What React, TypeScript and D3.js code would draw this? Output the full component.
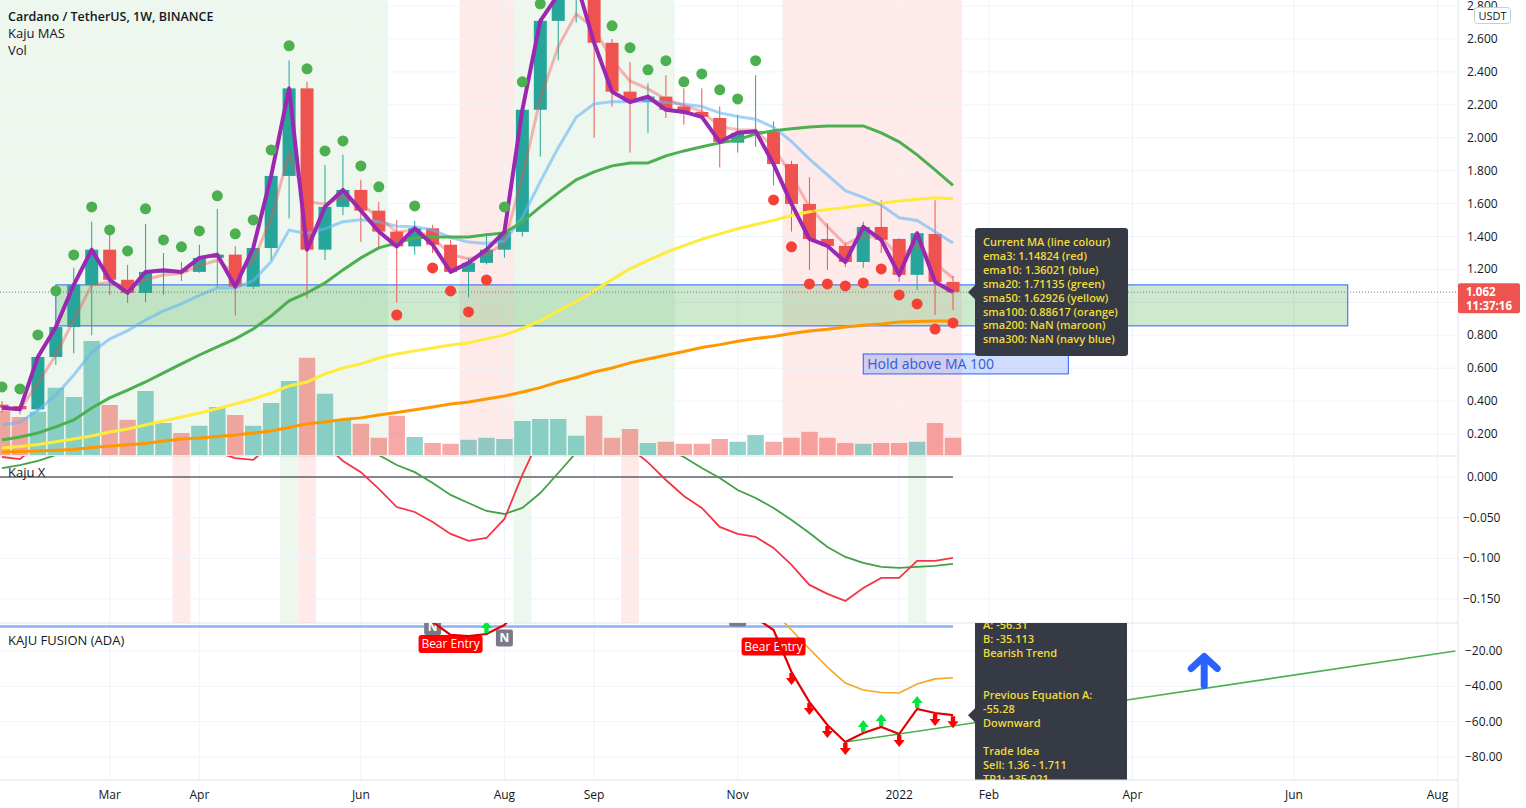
import React from "react";
import * as d3 from "d3";

// weekly bars, first and last candle
const firstWeek = new Date(Date.UTC(2021, 0, 18));
const afterLastWeek = new Date(Date.UTC(2022, 0, 25));

const open = [0.378, 0.37, 0.35, 0.668, 0.85, 1.106, 1.32, 1.137, 1.057, 1.18, 1.195, 1.185, 1.27, 1.29, 1.095, 1.33, 1.768, 2.3, 1.32, 1.58, 1.683, 1.557, 1.43, 1.34, 1.45, 1.35, 1.185, 1.24, 1.32, 1.428, 2.17, 2.71, 2.87, 2.95, 2.577, 2.28, 2.217, 2.25, 2.19, 2.157, 2.12, 1.97, 2.03, 2.035, 1.84, 1.598, 1.385, 1.343, 1.245, 1.458, 1.385, 1.167, 1.415, 1.124];
const high = [0.4, 0.38, 0.68, 0.88, 1.21, 1.49, 1.42, 1.227, 1.477, 1.3, 1.245, 1.35, 1.567, 1.34, 1.33, 1.8, 2.47, 2.34, 1.835, 1.896, 1.744, 1.61, 1.5, 1.495, 1.47, 1.38, 1.27, 1.42, 1.43, 2.17, 2.71, 2.97, 3.1, 2.99, 2.6, 2.46, 2.33, 2.38, 2.3, 2.3, 2.19, 2.14, 2.38, 2.1, 1.86, 1.76, 1.48, 1.36, 1.49, 1.62, 1.39, 1.43, 1.62, 1.16];
const low = [0.33, 0.32, 0.34, 0.62, 0.69, 0.8, 1.045, 0.996, 1.0, 1.045, 1.13, 1.18, 1.087, 0.92, 1.08, 1.257, 1.51, 1.025, 1.257, 1.53, 1.367, 1.33, 1.0, 1.29, 1.3, 1.18, 1.03, 1.23, 1.27, 1.4, 1.884, 2.47, 2.7, 2.0, 2.19, 1.91, 2.03, 2.12, 2.08, 2.12, 1.82, 1.91, 1.945, 1.71, 1.43, 1.197, 1.197, 1.215, 1.21, 1.3, 1.124, 1.075, 0.923, 0.954];
const close = [0.36, 0.35, 0.668, 0.85, 1.106, 1.32, 1.137, 1.057, 1.185, 1.195, 1.185, 1.27, 1.29, 1.095, 1.33, 1.768, 2.3, 1.32, 1.58, 1.683, 1.557, 1.43, 1.34, 1.45, 1.35, 1.185, 1.24, 1.32, 1.428, 2.17, 2.71, 2.87, 2.95, 2.577, 2.28, 2.217, 2.25, 2.17, 2.157, 2.127, 1.975, 2.03, 2.04, 1.84, 1.598, 1.385, 1.343, 1.245, 1.458, 1.38, 1.167, 1.42, 1.124, 1.062];
// volume, billions
const volume = [1.1, 0.95, 1.08, 1.68, 1.45, 2.85, 1.25, 0.88, 1.6, 0.8, 0.55, 0.73, 1.2, 1.0, 0.73, 1.3, 1.85, 2.43, 1.53, 0.9, 0.78, 0.43, 0.98, 0.45, 0.3, 0.28, 0.38, 0.43, 0.4, 0.85, 0.9, 0.9, 0.48, 0.98, 0.43, 0.65, 0.3, 0.33, 0.28, 0.28, 0.4, 0.33, 0.5, 0.33, 0.43, 0.58, 0.43, 0.3, 0.28, 0.3, 0.3, 0.33, 0.8, 0.43];

// Kaju MAS moving averages
const ema3 = [0.35, 0.35, 0.509, 0.68, 0.893, 1.106, 1.122, 1.09, 1.137, 1.166, 1.175, 1.223, 1.256, 1.176, 1.253, 1.51, 1.905, 1.613, 1.596, 1.64, 1.598, 1.514, 1.427, 1.439, 1.394, 1.29, 1.265, 1.292, 1.36, 1.765, 2.238, 2.554, 2.752, 2.665, 2.472, 2.345, 2.297, 2.234, 2.195, 2.161, 2.068, 2.049, 2.045, 1.942, 1.77, 1.578, 1.46, 1.353, 1.405, 1.393, 1.28, 1.35, 1.237, 1.148];
const ema10 = [0.255, 0.272, 0.344, 0.436, 0.558, 0.697, 0.777, 0.828, 0.893, 0.948, 0.991, 1.042, 1.087, 1.088, 1.132, 1.248, 1.439, 1.417, 1.447, 1.49, 1.502, 1.489, 1.462, 1.46, 1.44, 1.394, 1.366, 1.358, 1.371, 1.516, 1.733, 1.94, 2.124, 2.206, 2.219, 2.219, 2.225, 2.215, 2.204, 2.19, 2.151, 2.129, 2.113, 2.063, 1.978, 1.87, 1.774, 1.678, 1.638, 1.591, 1.514, 1.497, 1.429, 1.36];
const sma20 = [0.164, 0.182, 0.206, 0.243, 0.285, 0.358, 0.419, 0.467, 0.516, 0.571, 0.626, 0.68, 0.729, 0.778, 0.838, 0.917, 1.009, 1.057, 1.118, 1.197, 1.27, 1.331, 1.361, 1.391, 1.397, 1.397, 1.397, 1.41, 1.422, 1.489, 1.58, 1.665, 1.744, 1.793, 1.829, 1.847, 1.847, 1.89, 1.92, 1.945, 1.969, 1.987, 2.024, 2.042, 2.054, 2.066, 2.072, 2.072, 2.072, 2.03, 1.975, 1.896, 1.805, 1.711];
const sma50 = [0.115, 0.124, 0.136, 0.153, 0.17, 0.188, 0.212, 0.23, 0.255, 0.279, 0.303, 0.328, 0.354, 0.382, 0.413, 0.449, 0.492, 0.516, 0.565, 0.601, 0.626, 0.662, 0.686, 0.705, 0.723, 0.741, 0.753, 0.778, 0.802, 0.841, 0.888, 0.948, 1.005, 1.072, 1.138, 1.204, 1.255, 1.303, 1.344, 1.383, 1.416, 1.447, 1.473, 1.498, 1.528, 1.55, 1.564, 1.576, 1.59, 1.602, 1.616, 1.626, 1.635, 1.629];
const sma100 = [0.091, 0.094, 0.097, 0.101, 0.106, 0.118, 0.127, 0.134, 0.142, 0.157, 0.17, 0.176, 0.185, 0.194, 0.206, 0.218, 0.24, 0.263, 0.273, 0.288, 0.298, 0.316, 0.331, 0.347, 0.364, 0.382, 0.395, 0.413, 0.431, 0.455, 0.482, 0.516, 0.543, 0.577, 0.601, 0.632, 0.656, 0.678, 0.701, 0.725, 0.743, 0.764, 0.78, 0.792, 0.81, 0.826, 0.836, 0.85, 0.861, 0.869, 0.88, 0.884, 0.887, 0.886];

// signal dots (price), null = none
const bullDots = [0.486, 0.474, 0.802, 1.069, 1.288, 1.58, 1.44, 1.312, 1.568, 1.379, 1.337, 1.434, 1.647, 1.416, 1.501, 1.926, 2.559, 2.419, 1.92, 1.981, 1.829, 1.702, null, 1.586, null, null, null, null, 1.58, 2.34, 2.814, null, null, null, 2.68, 2.547, 2.413, 2.468, 2.34, 2.388, 2.291, 2.236, 2.468, null, null, null, null, null, null, null, null, null, null, null];
const bearDots = [null, null, null, null, null, null, null, null, null, null, null, null, null, null, null, null, null, null, null, null, null, null, 0.923, null, 1.209, 1.069, 0.942, 1.136, null, null, null, null, null, null, null, null, null, null, null, null, null, null, null, 1.622, 1.337, 1.112, 1.112, 1.1, 1.118, 1.203, 1.045, 0.99, 0.838, 0.875];

// background state bands (bar index ranges)
const greenBands = [[0, 21], [29, 37]];
const pinkBands = [[26, 28], [44, 53]];

// Kaju X
const kajuRed = [0.0246, 0.022, 0.04, 0.06, 0.08, 0.09, 0.085, 0.07, 0.06, 0.05, 0.04, 0.035, 0.03, 0.0233, 0.021, 0.04, 0.07, 0.08, 0.04, 0.0197, 0.006, -0.0147, -0.0369, -0.043, -0.0553, -0.07, -0.0786, -0.075, -0.0516, 0.0025, 0.05, 0.09, 0.12, 0.1, 0.06, 0.036, 0.018, -0.0037, -0.0233, -0.038, -0.0614, -0.07, -0.0737, -0.0872, -0.108, -0.1327, -0.1437, -0.1523, -0.1364, -0.124, -0.124, -0.1032, -0.1032, -0.0995];
const kajuGreen = [0.011, 0.0147, 0.0197, 0.027, 0.04, 0.06, 0.07, 0.08, 0.09, 0.1, 0.1, 0.1, 0.1, 0.1, 0.1, 0.1, 0.11, 0.11, 0.1, 0.09, 0.05, 0.027, 0.0147, 0.006, -0.0074, -0.022, -0.032, -0.0418, -0.0455, -0.038, -0.0197, 0.0049, 0.03, 0.045, 0.05, 0.05, 0.045, 0.035, 0.0246, 0.011, -0.0012, -0.016, -0.0258, -0.038, -0.0528, -0.0688, -0.086, -0.0983, -0.1057, -0.1106, -0.1118, -0.1106, -0.1093, -0.1069];
const kajuPinkBars = [10, 17, 35];
const kajuGreenBars = [16, 29, 51];

// Kaju Fusion
const fusionRed = [null, null, null, null, null, null, null, null, null, null, null, null, null, null, null, null, null, null, null, null, null, null, null, 5, -3.6, -10.9, -11.5, -10.4, -5.3, 6, 12, 16, 18, 18, 16, 14, 12, 10, 8, 6, 5, 3, -1.3, -8.1, -31.9, -48.9, -61.9, -71.5, -66.4, -63.0, -67.0, -52.8, -55.1, -56.3];
const fusionOrange = [null, null, null, null, null, null, null, null, null, null, null, null, null, null, null, null, null, null, null, null, null, null, null, null, null, null, null, null, null, null, null, null, null, null, null, null, null, null, null, null, null, null, 10, 2, -8.1, -18.9, -29.1, -38.1, -42.1, -43.5, -43.8, -38.7, -35.8, -35.1];
const fusionBaseline = -6.2;
const downArrowBars = [44, 45, 46, 47, 50, 52, 53];
const upArrowBars = [27, 48, 49, 51];
const bearEntryBars = [25, 43];
const bearEntryVals = [-16.0, -17.5];
const nLabelBars = [24, 28, 41];
const nLabelVals = [-6.1, -12.6, -1.3];
const trendDates = [new Date(Date.UTC(2021, 11, 13)), new Date(Date.UTC(2022, 7, 8))];
const trendVals = [-71.5, -20];
const blueArrowDate = new Date(Date.UTC(2022, 4, 2));
const blueArrowVal = -22;

// drawings
const zoneDates = [new Date(Date.UTC(2021, 1, 8)), new Date(Date.UTC(2022, 5, 27))];
const zonePrices = [1.106, 0.857];
const holdDates = [new Date(Date.UTC(2021, 11, 20)), new Date(Date.UTC(2022, 2, 10))];
const holdPrices = [0.686, 0.565];

const priceTicks = [2.8, 2.6, 2.4, 2.2, 2.0, 1.8, 1.6, 1.4, 1.2, 1.0, 0.8, 0.6, 0.4, 0.2];
// 1.000 sits under the live price tag, so it gets no label
const priceLabels = [2.8, 2.6, 2.4, 2.2, 2.0, 1.8, 1.6, 1.4, 1.2, 0.8, 0.6, 0.4, 0.2];
const kajuTicks = [0, -0.05, -0.1, -0.15];
const fusionTicks = [-20, -40, -60, -80];
const monthLabels = ["Mar", "Apr", "Jun", "Aug", "Sep", "Nov", "2022", "Feb", "Apr", "Jun", "Aug"];
const monthDates = ["2021-03-01", "2021-04-05", "2021-06-07", "2021-08-02", "2021-09-06", "2021-11-01", "2022-01-03", "2022-02-07", "2022-04-04", "2022-06-06", "2022-08-01"];

const maLines = [
  "Current MA (line colour)",
  "ema3: 1.14824 (red)",
  "ema10: 1.36021 (blue)",
  "sma20: 1.71135 (green)",
  "sma50: 1.62926 (yellow)",
  "sma100: 0.88617 (orange)",
  "sma200: NaN (maroon)",
  "sma300: NaN (navy blue)",
];
const fusionLines = ["A: -56.31", "B: -35.113", "Bearish Trend", "", "", "Previous Equation A:", "-55.28", "Downward", "", "Trade Idea", "Sell: 1.36 - 1.711", "TP1: 135.021"];

const TEAL = "#26a69a";
const RED = "#ef5350";
const GRID = "#f0f3fa";
const BORDER = "#e0e3eb";
const TEXT = "#131722";
const FONT = "'Open Sans', 'Noto Sans', sans-serif";
const TIP = "#f0dc3a";

export default function App() {
  const weeks = d3.utcMonday.range(firstWeek, afterLastWeek);
  const x = d3.scaleUtc().domain([weeks[0], weeks[weeks.length - 1]]).range([2, 953]);
  const xi = (i: number) => x(weeks[i]);
  const step = xi(1) - xi(0);
  const AX = 1458;

  const yP = d3.scaleLinear().domain([0.2, 2.6]).range([434, 39]);
  const yV = d3.scaleLinear().domain([0, 1]).range([455, 415]);
  const yX = d3.scaleLinear().domain([0, -0.15]).range([477, 599]);
  const yF = d3.scaleLinear().domain([-20, -80]).range([651, 757]);

  const lineOn = (sc: (v: number) => number) =>
    d3.line<number | null>().defined((v) => v != null).x((_, i) => xi(i)).y((v) => sc(v as number));

  const pricePath = lineOn(yP);
  const kajuPath = lineOn(yX);
  const fusionPath = lineOn(yF);

  const fmtP = d3.format(".3f");
  const fmtF = d3.format(".2f");

  const lastY = yP(close[close.length - 1]);
  const lastF = yF(fusionRed[fusionRed.length - 1] as number);

  const bx = x(blueArrowDate);
  const by = yF(blueArrowVal);

  return (
    <svg width={1526} height={808} style={{ position: "fixed", left: 0, top: 0, background: "#fff" }} fontFamily={FONT}>
      <defs>
        <clipPath id="cMain"><rect x={0} y={0} width={AX} height={456} /></clipPath>
        <clipPath id="cKaju"><rect x={0} y={456} width={AX} height={167} /></clipPath>
        <clipPath id="cFus"><rect x={0} y={623} width={AX} height={157} /></clipPath>
      </defs>

      {/* main pane */}
      <g clipPath="url(#cMain)">
        {greenBands.map(([a, b], k) => (
          <rect key={"gb" + k} x={xi(a) - step / 2} width={(b - a + 1) * step} y={0} height={456} fill="rgba(76,175,80,0.1)" />
        ))}
        {pinkBands.map(([a, b], k) => (
          <rect key={"pb" + k} x={xi(a) - step / 2} width={(b - a + 1) * step} y={0} height={456} fill="rgba(255,82,82,0.12)" />
        ))}
        {priceTicks.map((t) => (
          <line key={"hg" + t} x1={0} x2={AX} y1={yP(t)} y2={yP(t)} stroke={GRID} />
        ))}
        {monthDates.map((d) => (
          <line key={"vg" + d} x1={x(new Date(d))} x2={x(new Date(d))} y1={0} y2={456} stroke={GRID} />
        ))}
        {volume.map((v, i) => (
          <rect key={"v" + i} x={xi(i) - 8.2} width={16.4} y={yV(v)} height={yV(0) - yV(v)}
            fill={close[i] >= open[i] ? "rgba(38,166,154,0.5)" : "rgba(239,83,80,0.5)"} />
        ))}
        <rect x={x(zoneDates[0])} y={yP(zonePrices[0])} width={x(zoneDates[1]) - x(zoneDates[0])}
          height={yP(zonePrices[1]) - yP(zonePrices[0])} fill="rgba(76,175,80,0.28)" stroke="#2962ff" strokeWidth={1} />
        {open.map((o, i) => {
          const c = close[i];
          const col = c >= o ? TEAL : RED;
          const cx = xi(i);
          const top = yP(Math.max(o, c));
          const h = Math.max(1, Math.abs(yP(o) - yP(c)));
          return (
            <g key={"c" + i}>
              <line x1={cx} x2={cx} y1={yP(high[i])} y2={yP(low[i])} stroke={col} strokeWidth={1} />
              <rect x={cx - 6.5} width={13} y={top} height={h} fill={col} />
            </g>
          );
        })}
        <path d={pricePath(sma100) || ""} fill="none" stroke="#ff9800" strokeWidth={3} />
        <path d={pricePath(sma50) || ""} fill="none" stroke="#ffeb3b" strokeWidth={3} />
        <path d={pricePath(ema10) || ""} fill="none" stroke="rgba(100,181,246,0.6)" strokeWidth={3} />
        <path d={pricePath(ema3) || ""} fill="none" stroke="rgba(239,83,80,0.4)" strokeWidth={3} />
        <path d={pricePath(sma20) || ""} fill="none" stroke="#4caf50" strokeWidth={3} />
        <path d={pricePath(close) || ""} fill="none" stroke="#9c27b0" strokeWidth={4} strokeLinejoin="round" />
        <line x1={0} x2={AX} y1={lastY} y2={lastY} stroke="#787b86" strokeDasharray="1 2" />
        {bullDots.map((v, i) => v == null ? null : <circle key={"bd" + i} cx={xi(i)} cy={yP(v)} r={5.5} fill="#4caf50" />)}
        {bearDots.map((v, i) => v == null ? null : <circle key={"rd" + i} cx={xi(i)} cy={yP(v)} r={5.5} fill="#f44336" />)}
        <rect x={x(holdDates[0])} y={yP(holdPrices[0])} width={x(holdDates[1]) - x(holdDates[0])}
          height={yP(holdPrices[1]) - yP(holdPrices[0])} fill="rgba(41,98,255,0.22)" stroke="#2962ff" strokeWidth={1} />
        <text x={x(holdDates[0]) + 4} y={yP(holdPrices[1]) - 5} fontSize={14} fill="#2f5bd6">Hold above MA 100</text>
        <path d={`M975,${lastY - 7}L968,${lastY}L975,${lastY + 7}Z`} fill="#363a45" />
        <rect x={975} y={228} width={153} height={128} rx={3} fill="#363a45" />
        {maLines.map((t, k) => (
          <text key={"ml" + k} x={983} y={246 + k * 13.9} fontSize={11} fontWeight={600} fill={TIP}>{t}</text>
        ))}
      </g>
      <text x={8} y={21} fontSize={12.5} fontWeight={600} fill={TEXT}>Cardano / TetherUS, 1W, BINANCE</text>
      <text x={8} y={38} fontSize={13} fill={TEXT}>Kaju MAS</text>
      <text x={8} y={55} fontSize={13} fill={TEXT}>Vol</text>

      {/* Kaju X pane */}
      <line x1={0} x2={AX} y1={456} y2={456} stroke={BORDER} />
      <g clipPath="url(#cKaju)">
        {kajuPinkBars.map((i) => (
          <rect key={"kp" + i} x={xi(i) - step / 2} width={step} y={456} height={167} fill="rgba(255,82,82,0.12)" />
        ))}
        {kajuGreenBars.map((i) => (
          <rect key={"kg" + i} x={xi(i) - step / 2} width={step} y={456} height={167} fill="rgba(76,175,80,0.1)" />
        ))}
        {kajuTicks.map((t) => (
          <line key={"kh" + t} x1={0} x2={AX} y1={yX(t)} y2={yX(t)} stroke={GRID} />
        ))}
        {monthDates.map((d) => (
          <line key={"kv" + d} x1={x(new Date(d))} x2={x(new Date(d))} y1={456} y2={623} stroke={GRID} />
        ))}
        <line x1={0} x2={xi(53)} y1={yX(0)} y2={yX(0)} stroke={TEXT} strokeWidth={1} />
        <path d={kajuPath(kajuGreen) || ""} fill="none" stroke="#43a047" strokeWidth={1.8} />
        <path d={kajuPath(kajuRed) || ""} fill="none" stroke="#f23645" strokeWidth={1.8} />
        <text x={8} y={477} fontSize={13} fill={TEXT}>Kaju X</text>
      </g>

      {/* Kaju Fusion pane */}
      <line x1={0} x2={AX} y1={623} y2={623} stroke={BORDER} />
      <g clipPath="url(#cFus)">
        {fusionTicks.map((t) => (
          <line key={"fh" + t} x1={0} x2={AX} y1={yF(t)} y2={yF(t)} stroke={GRID} />
        ))}
        {monthDates.map((d) => (
          <line key={"fv" + d} x1={x(new Date(d))} x2={x(new Date(d))} y1={623} y2={780} stroke={GRID} />
        ))}
        <line x1={0} x2={xi(53)} y1={yF(fusionBaseline)} y2={yF(fusionBaseline)} stroke="#8fb1f3" strokeWidth={2.5} />
        <path d={fusionPath(fusionOrange) || ""} fill="none" stroke="#f5a623" strokeWidth={1.6} />
        <line x1={x(trendDates[0])} x2={x(trendDates[1])} y1={yF(trendVals[0])} y2={yF(trendVals[1])} stroke="#4caf50" strokeWidth={1.6} />
        {nLabelBars.map((i, k) => (
          <g key={"n" + i}>
            <rect x={xi(i) - 8.5} y={yF(nLabelVals[k]) - 8.5} width={17} height={17} rx={2} fill="#787b86" />
            <text x={xi(i)} y={yF(nLabelVals[k]) + 4.5} fontSize={12} fontWeight={700} fill="#fff" textAnchor="middle">N</text>
          </g>
        ))}
        {bearEntryBars.map((i, k) => (
          <g key={"be" + i}>
            <rect x={xi(i) - 32} y={yF(bearEntryVals[k]) - 9} width={64} height={18} rx={3} fill="#ff0000" />
            <text x={xi(i)} y={yF(bearEntryVals[k]) + 4.5} fontSize={12} fill="#fff" textAnchor="middle">Bear Entry</text>
          </g>
        ))}
        <path d={fusionPath(fusionRed) || ""} fill="none" stroke="#e00000" strokeWidth={2.2} />
        {downArrowBars.map((i) => {
          const cx = xi(i);
          const cy = yF(fusionRed[i] as number) + 7;
          return <path key={"da" + i} d={`M${cx - 2.2},${cy - 6}h4.4v5h3.3L${cx},${cy + 6}L${cx - 5.5},${cy - 1}h3.3Z`} fill="#ff0000" />;
        })}
        {upArrowBars.map((i) => {
          const cx = xi(i);
          const cy = yF(fusionRed[i] as number) - 7;
          return <path key={"ua" + i} d={`M${cx - 2.2},${cy + 6}h4.4v-5h3.3L${cx},${cy - 6}L${cx - 5.5},${cy + 1}h3.3Z`} fill="#00e640" />;
        })}
        <g stroke="#2962ff" strokeWidth={7} strokeLinecap="round" strokeLinejoin="round" fill="none">
          <path d={`M${bx - 13},${by + 14}L${bx},${by + 2}L${bx + 13},${by + 14}`} />
          <path d={`M${bx},${by + 3}V${by + 31}`} />
        </g>
        <path d={`M975,${lastF - 7}L968,${lastF}L975,${lastF + 7}Z`} fill="#363a45" />
        <rect x={975} y={600} width={152} height={200} rx={3} fill="#363a45" />
        {fusionLines.map((t, k) => (
          <text key={"fl" + k} x={983} y={629 + k * 14} fontSize={11} fontWeight={600} fill={TIP}>{t}</text>
        ))}
        <text x={8} y={645} fontSize={13} fill={TEXT}>KAJU FUSION (ADA)</text>
      </g>

      {/* time axis */}
      <line x1={0} x2={AX} y1={780} y2={780} stroke={BORDER} />
      {monthLabels.map((m, k) => (
        <text key={"ml" + k} x={x(new Date(monthDates[k]))} y={799} fontSize={12} fill={TEXT} textAnchor="middle">{m}</text>
      ))}

      {/* price axis */}
      <line x1={AX} x2={AX} y1={0} y2={808} stroke={BORDER} />
      {priceLabels.map((t) => (
        <text key={"pt" + t} x={1467} y={yP(t) + 4} fontSize={12} fill={TEXT}>{fmtP(t)}</text>
      ))}
      {kajuTicks.map((t) => (
        <text key={"kt" + t} x={t === 0 ? 1467 : 1463} y={yX(t) + 4} fontSize={12} fill={TEXT}>{fmtP(t)}</text>
      ))}
      {fusionTicks.map((t) => (
        <text key={"ft" + t} x={1465} y={yF(t) + 4} fontSize={12} fill={TEXT}>{fmtF(t)}</text>
      ))}
      <rect x={1474.5} y={7.5} width={36} height={16} rx={3} fill="#fff" stroke="#c9ccd4" />
      <text x={1492.5} y={19.5} fontSize={11} fill={TEXT} textAnchor="middle">USDT</text>
      <rect x={1458} y={lastY - 9} width={62} height={30} rx={2} fill={RED} />
      <text x={1466} y={lastY + 4} fontSize={11.5} fontWeight={700} fill="#fff">{fmtP(close[close.length - 1])}</text>
      <text x={1466} y={lastY + 18} fontSize={11.5} fontWeight={700} fill="#fff">11:37:16</text>
    </svg>
  );
}
